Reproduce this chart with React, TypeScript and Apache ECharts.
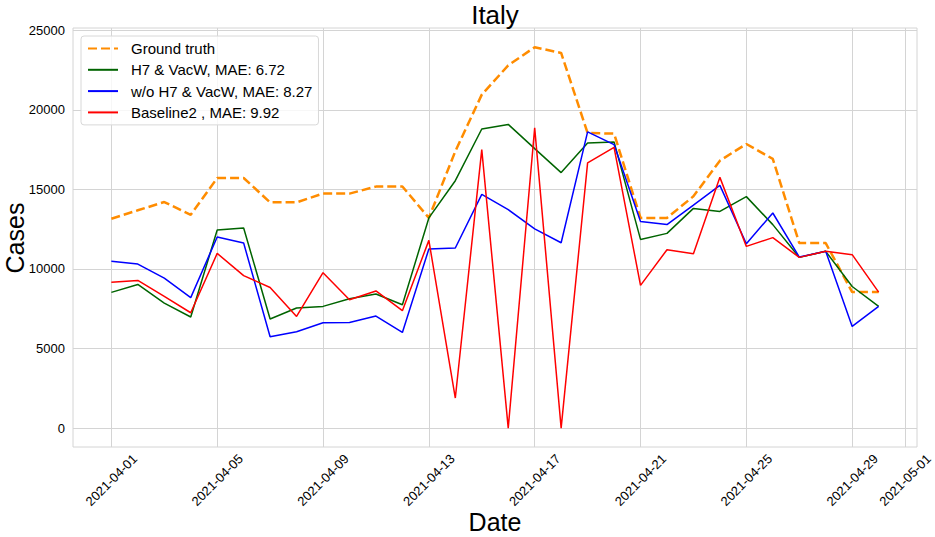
import React, { useEffect, useRef } from "react";
import * as echarts from "echarts";

const dates = [
  "2021-04-01", "2021-04-02", "2021-04-03", "2021-04-04", "2021-04-05",
  "2021-04-06", "2021-04-07", "2021-04-08", "2021-04-09", "2021-04-10",
  "2021-04-11", "2021-04-12", "2021-04-13", "2021-04-14", "2021-04-15",
  "2021-04-16", "2021-04-17", "2021-04-18", "2021-04-19", "2021-04-20",
  "2021-04-21", "2021-04-22", "2021-04-23", "2021-04-24", "2021-04-25",
  "2021-04-26", "2021-04-27", "2021-04-28", "2021-04-29", "2021-04-30",
];

const groundTruth = [
  13160, 13690, 14210, 13410, 15720, 15720, 14190, 14190, 14740, 14740,
  15180, 15190, 13210, 17400, 20960, 22800, 23940, 23580, 18550, 18510,
  13210, 13210, 14570, 16810, 17860, 16920, 11630, 11630, 8550, 8550,
];

const h7VacW = [
  8530, 9030, 7860, 6980, 12450, 12580, 6860, 7550, 7650, 8130,
  8430, 7750, 13210, 15550, 18800, 19090, 17570, 16060, 17920, 17990,
  11860, 12240, 13810, 13620, 14550, 12790, 10730, 11110, 8900, 7650,
];

const woH7VacW = [
  10480, 10310, 9430, 8200, 12010, 11630, 5740, 6060, 6620, 6640,
  7040, 6010, 11260, 11320, 14690, 13730, 12520, 11650, 18620, 17820,
  12990, 12790, 14020, 15260, 11590, 13520, 10750, 11110, 6390, 7650,
];

const baseline2 = [
  9160, 9280, 8280, 7250, 10980, 9580, 8840, 7020, 9770, 8070,
  8620, 7380, 11800, 1890, 17500, 0, 18870, 0, 16670, 17650,
  8970, 11210, 10960, 15760, 11420, 11970, 10730, 11110, 10900, 8550,
];

const seriesNames = [
  "Ground truth",
  "H7 & VacW, MAE: 6.72",
  "w/o H7 & VacW, MAE: 8.27",
  "Baseline2 , MAE: 9.92",
];

const xTickLabels = [
  "2021-04-01", "2021-04-05", "2021-04-09", "2021-04-13", "2021-04-17",
  "2021-04-21", "2021-04-25", "2021-04-29", "2021-05-01",
];

const yTicks = [0, 5000, 10000, 15000, 20000, 25000];

const DAY = 86400000;
const t0 = Date.parse(dates[0]);
const dayIndex = (d: string) => Math.round((Date.parse(d) - t0) / DAY);
const toPairs = (vals: number[]) => vals.map((v, i) => [dayIndex(dates[i]), v]);

const FONT = "Liberation Sans, Arial, sans-serif";
const GRID_COLOR = "#d4d4d4";

export default function App() {
  const ref = useRef<HTMLDivElement>(null);

  useEffect(() => {
    if (!ref.current) return;
    const chart = echarts.init(ref.current, undefined, { renderer: "svg" });
    const xTickVals = xTickLabels.map(dayIndex);
    const labelByVal: Record<number, string> = {};
    xTickLabels.forEach((l) => (labelByVal[dayIndex(l)] = l));
    const lastIdx = dayIndex(dates[dates.length - 1]);
    const span = lastIdx;
    const xMin = -0.05 * span;
    const xMax = lastIdx + 0.05 * span;

    const thin = (name: string, data: number[], color: string) => ({
      name,
      type: "line",
      data: toPairs(data),
      symbol: "none",
      lineStyle: { color, width: 1.5 },
      itemStyle: { color },
      z: 3,
    });

    chart.setOption({
      animation: false,
      backgroundColor: "#ffffff",
      title: {
        text: "Italy",
        left: 495,
        textAlign: "center",
        top: 2,
        padding: 0,
        textStyle: { fontFamily: FONT, fontSize: 26, fontWeight: "normal", color: "#000" },
      },
      graphic: [
        {
          type: "text",
          x: 15,
          y: 238,
          rotation: Math.PI / 2,
          style: {
            text: "Cases",
            align: "center",
            verticalAlign: "middle",
            fontFamily: FONT,
            fontSize: 25,
            fill: "#000",
          },
        },
        {
          type: "text",
          x: 495,
          y: 522,
          style: {
            text: "Date",
            align: "center",
            verticalAlign: "middle",
            fontFamily: FONT,
            fontSize: 25,
            fill: "#000",
          },
        },
      ],
      grid: {
        left: 73,
        right: 18,
        top: 28,
        bottom: 90,
        outerBoundsMode: "none",
        containLabel: false,
        show: true,
        borderColor: GRID_COLOR,
        borderWidth: 1,
        backgroundColor: "transparent",
      },
      legend: {
        orient: "vertical",
        left: 81,
        top: 36,
        padding: [5, 6, 5, 6],
        itemWidth: 30,
        itemHeight: 14,
        itemGap: 6.3,
        backgroundColor: "rgba(255,255,255,0.8)",
        borderColor: "#d8d8d8",
        borderWidth: 1,
        borderRadius: 3,
        itemStyle: { opacity: 0, borderWidth: 0 },
        textStyle: { fontFamily: FONT, fontSize: 15, color: "#000", padding: [0, 0, 0, 8] },
        data: seriesNames,
      },
      xAxis: {
        type: "value",
        min: xMin,
        max: xMax,
        axisLine: { show: false },
        axisTick: { show: false, customValues: xTickVals },
        splitLine: { show: true, lineStyle: { color: GRID_COLOR, width: 1 } },
        axisLabel: {
          customValues: xTickVals,
          rotate: 45,
          align: "center",
          verticalAlign: "middle",
          margin: 33,
          fontFamily: FONT,
          fontSize: 13,
          color: "#000",
          formatter: (v: number) => labelByVal[Math.round(v)] ?? "",
        },
      },
      yAxis: {
        type: "value",
        min: -1190,
        max: 25150,
        axisLine: { show: false },
        axisTick: { show: false, customValues: yTicks },
        splitLine: { show: true, lineStyle: { color: GRID_COLOR, width: 1 } },
        axisLabel: {
          customValues: yTicks,
          margin: 8,
          fontFamily: FONT,
          fontSize: 13,
          color: "#000",
          formatter: (v: number) => String(Math.round(v)),
        },
      },
      series: [
        {
          name: seriesNames[0],
          type: "line",
          data: toPairs(groundTruth),
          symbol: "none",
          lineStyle: { color: "#ff8c00", width: 2.5, type: [9, 4] },
          itemStyle: { color: "#ff8c00" },
          z: 2,
        },
        thin(seriesNames[1], h7VacW, "#006400"),
        thin(seriesNames[2], woH7VacW, "#0000ff"),
        thin(seriesNames[3], baseline2, "#ff0000"),
      ],
    });
    return () => chart.dispose();
  }, []);

  return (
    <div
      ref={ref}
      style={{ position: "fixed", left: 0, top: 0, width: 935, height: 537 }}
    />
  );
}
